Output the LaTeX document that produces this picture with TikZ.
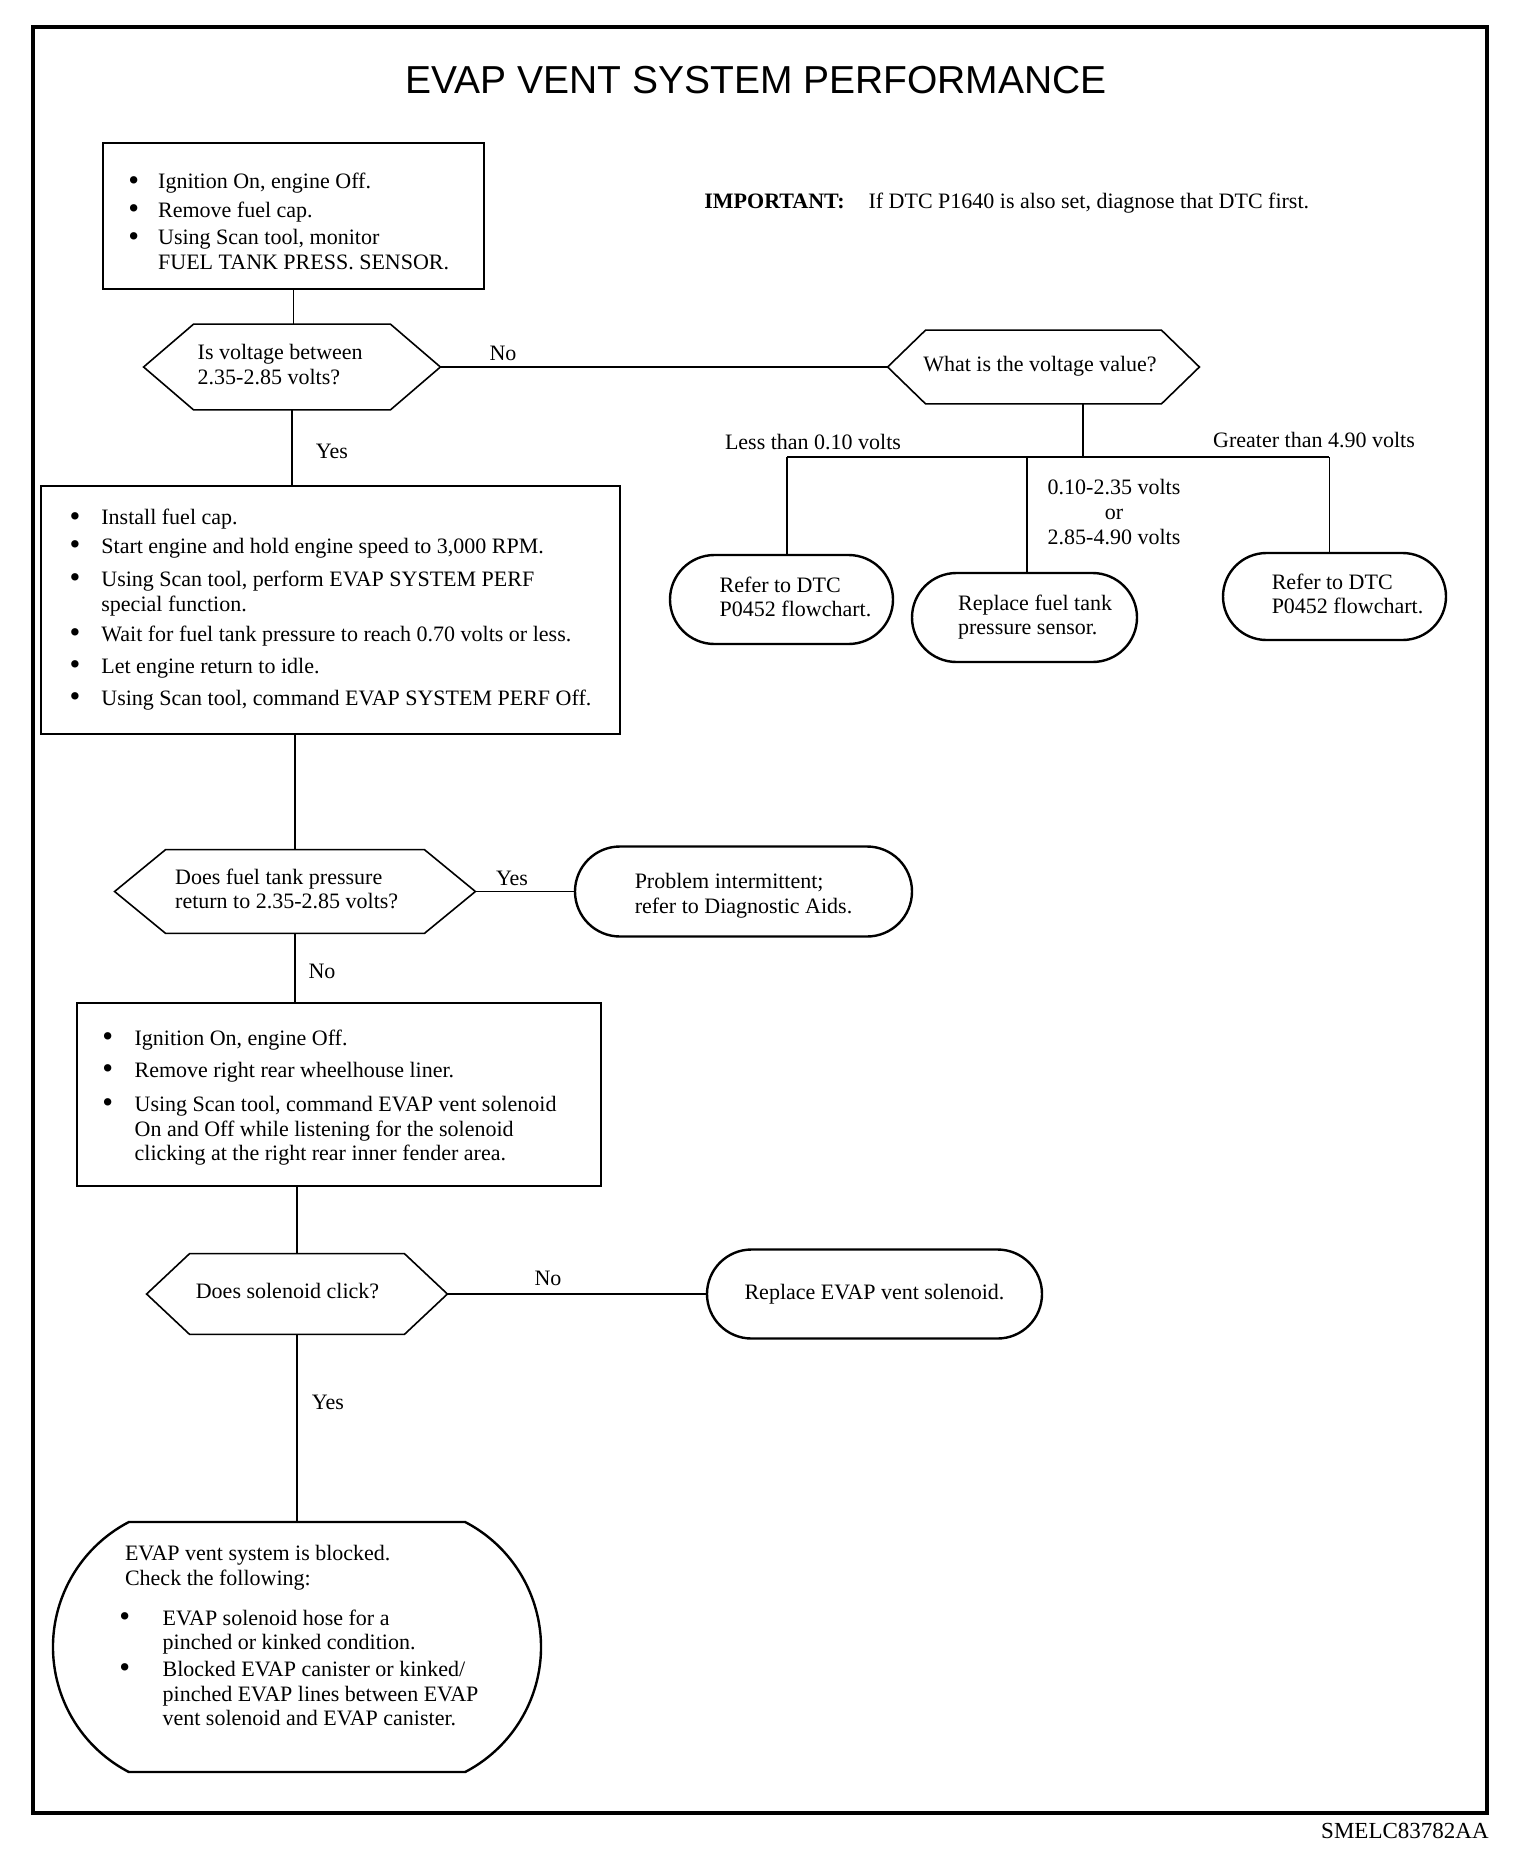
\documentclass[tikz,border=0pt]{standalone}
\usepackage{fontspec}
\setmainfont{Liberation Serif}
\newfontfamily\titlefont{Liberation Sans}
\usetikzlibrary{shapes.misc,positioning}

\newcommand{\bodyfont}{\fontsize{11}{12.3}\selectfont}
\newcommand{\blt}{\raisebox{-0.6pt}{\scalebox{1.4}{\textbullet}}}
% padded text blocks, to move text inside a fixed outline
\newcommand{\padl}[2]{\begin{tabular}{@{\hspace{#1}}l@{}}#2\end{tabular}}
\newcommand{\padr}[2]{\begin{tabular}{@{}l@{\hspace{#1}}}#2\end{tabular}}
% shift text up/down without changing its size
\newcommand{\vmove}[2]{\raisebox{#1}[\height][\depth]{#2}}
\tikzset{
    % rectangular step boxes
    boxnode/.style={draw, line width=0.8pt, align=left, inner sep=0pt},
    % question boxes, the outline is drawn afterwards
    hexnode/.style={inner sep=0pt, align=left},
    hexline/.style={line width=0.8pt, line join=miter},
    % rounded end boxes
    endnode/.style={rounded rectangle, draw, line width=1.2pt, align=left, inner sep=0pt},
    linkline/.style={line width=0.6pt},
    lbl/.style={inner sep=0pt}
}

\begin{document}
\begin{tikzpicture}[x=0.5pt,y=-0.5pt,font=\bodyfont]
\useasboundingbox (0,0) rectangle (1536,1852);
% ===================== frame and title =====================
\draw[line width=2.2pt] (33,27) rectangle (1487,1813);
\node[lbl] (title) at (756,80) {\titlefont\fontsize{19.5}{23}\selectfont EVAP VENT SYSTEM PERFORMANCE};
\node[lbl,anchor=west] (important) at (704,203) {\textbf{IMPORTANT:}\hspace{12pt}If DTC P1640 is also set, diagnose that DTC first.};
\node[lbl,anchor=base east] (code) at (1489,1838) {\fontsize{11.5}{14}\selectfont SMELC83782AA};

% ===================== left column =====================
\node[boxnode,minimum width=190.5pt,minimum height=73pt] (box1) at (293.5,216) {\vmove{-4.1pt}{%
\begin{tabular}{@{}l@{\hspace{9.5pt}}l@{\hspace{4.7pt}}}
\blt & Ignition On, engine Off.\\[2pt]
\blt & Remove fuel cap.\\[1.4pt]
\blt & Using Scan tool, monitor\\
 & FUEL TANK PRESS. SENSOR.
\end{tabular}}};

\node[hexnode,minimum width=148pt,minimum height=42.5pt] (d1) at (292,367) {\padr{11.8pt}{Is voltage between\\2.35-2.85 volts?}};

\node[boxnode,minimum width=289.5pt,minimum height=124pt] (box2) at (330.5,610) {%
\begin{tabular}{@{}l@{\hspace{10.5pt}}l@{}}
\blt & Install fuel cap.\\[2pt]
\blt & Start engine and hold engine speed to 3,000 RPM.\\[4.3pt]
\blt & Using Scan tool, perform EVAP SYSTEM PERF\\
 & special function.\\[2.6pt]
\blt & Wait for fuel tank pressure to reach 0.70 volts or less.\\[3.7pt]
\blt & Let engine return to idle.\\[3.7pt]
\blt & Using Scan tool, command EVAP SYSTEM PERF Off.
\end{tabular}};

\node[hexnode,minimum width=180pt,minimum height=41.5pt] (d2) at (295,891.5) {\padr{8.3pt}{Does fuel tank pressure\\return to 2.35-2.85 volts?}};

\node[boxnode,minimum width=262pt,minimum height=91.5pt] (box3) at (339,1094.5) {\vmove{-1.8pt}{%
\begin{tabular}{@{}l@{\hspace{10.7pt}}l@{\hspace{9.5pt}}}
\blt & Ignition On, engine Off.\\[3.7pt]
\blt & Remove right rear wheelhouse liner.\\[4.8pt]
\blt & Using Scan tool, command EVAP vent solenoid\\
 & On and Off while listening for the solenoid\\
 & clicking at the right rear inner fender area.
\end{tabular}}};

\node[hexnode,minimum width=150pt,minimum height=40pt] (d3) at (297,1294) {\padr{9.5pt}{Does solenoid click?}};

\node[endnode,rounded rectangle arc length=125,minimum width=244pt,minimum height=125pt] (t6) at (297,1647) {\vmove{4.4pt}{%
\begin{tabular}{@{\hspace{1.8pt}}l@{\hspace{16.3pt}}l@{}}
\multicolumn{2}{@{\hspace{4.7pt}}l@{}}{EVAP vent system is blocked.}\\
\multicolumn{2}{@{\hspace{4.7pt}}l@{}}{Check the following:}\\[7.7pt]
\blt & EVAP solenoid hose for a\\
 & pinched or kinked condition.\\[1.2pt]
\blt & Blocked EVAP canister or kinked/\\
 & pinched EVAP lines between EVAP\\
 & vent solenoid and EVAP canister.
\end{tabular}}};

% ===================== right side =====================
\node[hexnode,minimum width=155.5pt,minimum height=36.5pt] (d4) at (1043.5,367) {\padr{3.5pt}{What is the voltage value?}};
\coordinate (split) at (1083,457);

\node[endnode,minimum width=111.5pt,minimum height=44.5pt] (t1) at (781.5,599.5) {\padl{14pt}{Refer to DTC\\P0452 flowchart.}};
\node[endnode,minimum width=112.5pt,minimum height=44.5pt] (t2) at (1024.5,617.5) {\padl{10.6pt}{Replace fuel tank\\pressure sensor.}};
\node[endnode,minimum width=111.5pt,minimum height=43.5pt] (t3) at (1334.5,596.5) {\padl{13pt}{Refer to DTC\\P0452 flowchart.}};
\node[endnode,minimum width=168.5pt,minimum height=45pt] (t4) at (743.5,891.5) {\vmove{-2.4pt}{\padl{0pt}{Problem intermittent;\\refer to Diagnostic Aids.}}};
\node[endnode,minimum width=167.5pt,minimum height=44.5pt] (t5) at (874.5,1294) {Replace EVAP vent solenoid.};

% hexagon outlines
\foreach \n/\s in {d1/25pt,d2/25.5pt,d3/21.5pt,d4/19pt}
  \draw[hexline] (\n.west) -- ([xshift=\s]\n.north west) -- ([xshift=-\s]\n.north east)
    -- (\n.east) -- ([xshift=-\s]\n.south east) -- ([xshift=\s]\n.south west) -- cycle;

% ===================== connectors =====================
\draw[linkline] (box1.south) -- (box1.south |- d1.north);
\draw[linkline] (d1.south) -- (d1.south |- box2.north);
\draw[linkline] (d1.east) -- (d4.west);
\draw[linkline] (d4.south -| split) -- (split);
\draw[linkline] ([xshift=2.7pt]t1.north |- split) -- ([xshift=-2.7pt]t3.north |- split);
\foreach \t/\dx in {t1/2.7pt,t2/1.2pt,t3/-2.7pt}
  \draw[linkline] ([xshift=\dx]\t.north |- split) -- ([xshift=\dx]\t.north);
\draw[linkline] (d2.north |- box2.south) -- (d2.north);
\draw[linkline] (d2.east) -- (t4.west);
\draw[linkline] (d2.south) -- (d2.south |- box3.north);
\draw[linkline] (d3.north |- box3.south) -- (d3.north);
\draw[linkline] (d3.east) -- (t5.west);
\draw[linkline] (d3.south) -- (d3.south |- t6.north);

% labels
\node[lbl] (lno1) at (503,353) {No};
\node[lbl] (lyes1) at (332,451) {Yes};
\node[lbl] (lless) at (813,442) {Less than 0.10 volts};
\node[lbl] (lgreater) at (1314,440) {Greater than 4.90 volts};
\node[lbl,align=center] (lmid) at (1114,512) {0.10-2.35 volts\\or\\2.85-4.90 volts};
\node[lbl] (lyes2) at (512,878) {Yes};
\node[lbl] (lno2) at (322,971) {No};
\node[lbl] (lno3) at (548,1278) {No};
\node[lbl] (lyes3) at (328,1402) {Yes};
\end{tikzpicture}
\end{document}
